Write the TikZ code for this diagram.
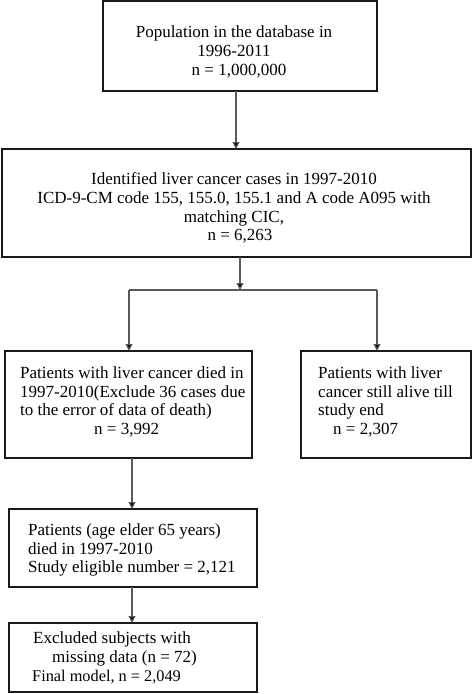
\documentclass[tikz,border=0pt]{standalone}
\usepackage{fontspec}
\setmainfont{Liberation Serif}
\usetikzlibrary{arrows.meta}
\begin{document}
\begin{tikzpicture}[x=1pt,y=-1pt,
  boxx/.style={draw=black!90,line width=1.2pt},
  txt/.style={inner sep=0pt,font=\fontsize{17}{18.8}\selectfont},
  conn/.style={draw=black!65,line width=1.2pt},
  arr/.style={conn,-{Triangle[length=7pt,width=7pt,fill=black]}}]
\useasboundingbox (0,0) rectangle (472,694);
% boxes
\draw[boxx] (103,1) rectangle (377,91);
\draw[boxx] (2,149) rectangle (471,257);
\draw[boxx] (5,351) rectangle (252,458);
\draw[boxx] (301,351) rectangle (471,458);
\draw[boxx] (9,509) rectangle (257,587);
\draw[boxx] (9,623) rectangle (257,692);
% named anchors for connectors
\coordinate (b1s) at (236,91);
\coordinate (b2n) at (236,149);
\coordinate (b2s) at (240,257);
\coordinate (j) at (240,290);
\coordinate (jl) at (129,290);
\coordinate (jr) at (377,290);
\coordinate (b3n) at (129,351);
\coordinate (b4n) at (377,351);
\coordinate (b3s) at (132,458);
\coordinate (b5n) at (132,509);
\coordinate (b5s) at (132,587);
\coordinate (b6n) at (132,623);
% texts
\node[txt,align=center] (t1) at (234,52) {Population in the database in\\1996-2011\\\hspace*{10pt}n = 1,000,000};
\node[txt,align=center] (t2) at (234,208) {Identified liver cancer cases in 1997-2010\\ICD-9-CM code 155, 155.0, 155.1 and A code A095 with\\matching CIC,\\\hspace*{12pt}n = 6,263};
\node[txt,align=left,anchor=west] (t3) at (20,402) {Patients with liver cancer died in\\1997-2010(Exclude 36 cases due\\to the error of data of death)\\\hspace*{74pt}n = 3,992};
\node[txt,align=left,anchor=west] (t4) at (318,402) {Patients with liver\\cancer still alive till\\study end\\\hspace*{15pt}n = 2,307};
\node[txt,align=left,anchor=west] (t5) at (28,550) {Patients (age elder 65 years)\\died in 1997-2010\\Study eligible number = 2,121};
\node[txt,align=left,anchor=west] (t6) at (32,658) {\hspace*{1pt}Excluded subjects with\\\hspace*{20pt}missing data (n = 72)\\{\fontsize{16.3}{18.8}\selectfont Final model, n = 2,049}};
% connectors
\draw[arr] (b1s) -- (b2n);
\draw[arr] (b2s) -- (j);
\draw[conn] (jl) -- (jr);
\draw[arr] (jl) -- (b3n);
\draw[arr] (jr) -- (b4n);
\draw[arr] (b3s) -- (b5n);
\draw[arr] (b5s) -- (b6n);
\end{tikzpicture}
\end{document}
